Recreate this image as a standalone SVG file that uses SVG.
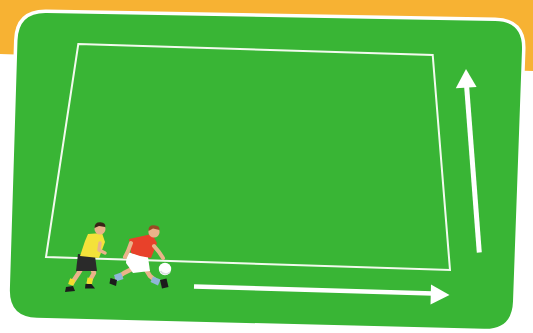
<svg xmlns="http://www.w3.org/2000/svg" width="533" height="333" viewBox="0 0 533 333">
  <style>
    .field { fill: #39b535; }
    .field-rim { fill: none; stroke: #ffffff; stroke-width: 7; stroke-linejoin: round; }
    .pitch { fill: none; stroke: #f2faee; stroke-width: 2; stroke-linejoin: miter; }
    .shaft { stroke: #ffffff; stroke-width: 5; stroke-linecap: butt; }
    .head { fill: #ffffff; }
    .skin { fill: #eab38a; }
    .limb { fill: none; stroke: #eab38a; stroke-width: 4.5; stroke-linecap: round; stroke-linejoin: round; }
    .boot { fill: #1c1c1c; }
  </style>

  <!-- page background with orange header band -->
  <rect x="0" y="0" width="533" height="333" fill="#ffffff"/>
  <polygon points="0,0 533,0 533,71 0,54" fill="#f7b233"/>

  <!-- green playing board (slightly skewed rounded quad) -->
  <g id="board">
    <path class="field-rim" d="M46.4,13 L495,20.9 Q523,21.4 522,49.4 L513,301.5 Q512,329.5 484,328.8 L37,317.7 Q9,317 9.9,289 L17.5,40.5 Q18.4,12.5 46.4,13 Z"/>
    <path class="field" d="M46.4,13 L495,20.9 Q523,21.4 522,49.4 L513,301.5 Q512,329.5 484,328.8 L37,317.7 Q9,317 9.9,289 L17.5,40.5 Q18.4,12.5 46.4,13 Z"/>
  </g>

  <!-- marked playing area -->
  <g id="area">
    <polygon class="pitch" points="78.3,44 432.7,55 450,270 46,257"/>
  </g>

  <!-- direction arrows -->
  <g id="connectors">
    <g id="arrow-right">
      <line class="shaft" x1="194" y1="286.5" x2="433" y2="293.6" style="stroke-width:4.5"/>
      <polygon class="head" points="449.5,295 431,284.5 430.5,304.5"/>
    </g>
    <g id="arrow-up">
      <line class="shaft" x1="479.3" y1="252.5" x2="466.6" y2="86"/>
      <polygon class="head" points="466,69 455.8,88.2 476.6,87"/>
    </g>
  </g>

  <!-- defender in yellow -->
  <g id="player-yellow">
    <!-- legs -->
    <polyline class="limb" points="83,266 78,274 72,283"/>
    <polyline class="limb" points="91,266 94,273 89,282"/>
    <rect x="69" y="279" width="5.5" height="6" fill="#f2de2e" transform="rotate(20 71.5 282)"/>
    <rect x="87" y="278" width="5.5" height="6" fill="#f2de2e" transform="rotate(10 89.5 281)"/>
    <path class="boot" d="M66,287 L73,286 L75,291 L65,292 Z"/>
    <path class="boot" d="M85.5,284 L91.5,284 L95,288.5 L85,288.5 Z"/>
    <!-- shorts -->
    <polygon points="78,254 95,256 97,271 76,271" fill="#2a2a2a"/>
    <!-- shirt -->
    <polygon points="88,234 102,233 105,242 99,258 80,256 85,241" fill="#f4e23a"/>
    <!-- arm -->
    <polyline class="limb" points="100,243 99,250 105,253" style="stroke-width:3.5"/>
    <!-- head -->
    <circle class="skin" cx="100" cy="229" r="5.5"/>
    <path d="M94.5,228 Q94.5,222 100.5,222.3 Q106,223 105.3,227 L99,226 Z" fill="#3a2416"/>
  </g>

  <!-- attacker in red with the ball -->
  <g id="player-red">
    <!-- back leg -->
    <polyline class="limb" points="134,268 124,273 117,278"/>
    <polygon points="114,275 121,272.5 123.5,279 116,281.5" fill="#8fb6d8"/>
    <path class="boot" d="M110.5,278 L117,280 L116,286 L109.5,283.5 Z"/>
    <!-- front leg -->
    <polyline class="limb" points="145,268 150,276 155,280"/>
    <polygon points="153,276.5 160.5,279.5 158,285.5 150.5,282" fill="#8fb6d8"/>
    <path class="boot" d="M160,280 L166.5,278.5 L168.5,287 L162,288.5 Z"/>
    <!-- shorts -->
    <polygon points="127,252 148,257 150,271 133,273 126,263" fill="#ffffff"/>
    <!-- shirt -->
    <polygon points="129,239 152,234 157,243 151,258 140,256 131,253" fill="#e8412a"/>
    <!-- arms -->
    <polyline class="limb" points="131,243 128,251 125,257" style="stroke-width:4"/>
    <polyline class="limb" points="154,246 159,252 163,258" style="stroke-width:4"/>
    <!-- head -->
    <circle class="skin" cx="154" cy="232" r="5.6"/>
    <path d="M148.5,231 Q148,225 154,225.3 Q160,225.6 159.5,230 L153,228.5 Z" fill="#9a4a24"/>
  </g>

  <!-- ball -->
  <g id="ball">
    <circle cx="165" cy="269" r="6.2" fill="#ffffff"/>
    <path d="M160.5,271 A6,6 0 0 0 170,272" fill="none" stroke="#d8e0e0" stroke-width="1.5"/>
  </g>
</svg>
